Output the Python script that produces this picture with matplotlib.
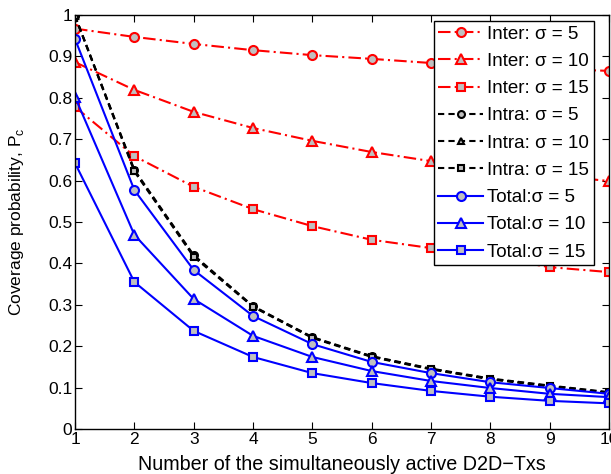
import matplotlib.pyplot as plt
import numpy as np

plt.rcParams['font.family'] = ['Liberation Sans', 'DejaVu Sans']

n_tx = [1, 2, 3, 4, 5, 6, 7, 8, 9, 10]

inter_5 = [0.967, 0.947, 0.930, 0.915, 0.903, 0.894, 0.884, 0.877, 0.870, 0.865]
inter_10 = [0.886, 0.819, 0.766, 0.727, 0.696, 0.669, 0.647, 0.630, 0.613, 0.599]
inter_15 = [0.778, 0.659, 0.585, 0.531, 0.490, 0.457, 0.437, 0.415, 0.391, 0.379]

intra_5 = [0.998, 0.626, 0.420, 0.297, 0.222, 0.176, 0.146, 0.122, 0.105, 0.089]
intra_10 = [0.998, 0.624, 0.418, 0.296, 0.221, 0.175, 0.145, 0.121, 0.104, 0.088]
intra_15 = [0.997, 0.622, 0.416, 0.295, 0.220, 0.174, 0.144, 0.120, 0.103, 0.087]

total_5 = [0.942, 0.577, 0.384, 0.273, 0.205, 0.162, 0.135, 0.113, 0.099, 0.085]
total_10 = [0.802, 0.469, 0.314, 0.225, 0.174, 0.140, 0.116, 0.099, 0.085, 0.077]
total_15 = [0.642, 0.355, 0.237, 0.174, 0.135, 0.111, 0.092, 0.078, 0.068, 0.062]

labels = ['Inter: σ = 5', 'Inter: σ = 10', 'Inter: σ = 15',
          'Intra: σ = 5', 'Intra: σ = 10', 'Intra: σ = 15',
          'Total:σ = 5', 'Total:σ = 10', 'Total:σ = 15']

fig = plt.figure(figsize=(6.11, 4.74), dpi=100)
ax = fig.add_axes([0.1228, 0.0949, 0.8740, 0.8735])

face = '#c0c0c0'
series = [
    (inter_5, 'r', (0, (6, 2, 1, 2)), 'o'),
    (inter_10, 'r', (0, (6, 2, 1, 2)), '^'),
    (inter_15, 'r', (0, (6, 2, 1, 2)), 's'),
    (intra_5, 'k', (0, (3, 2)), 'o'),
    (intra_10, 'k', (0, (3, 2)), '^'),
    (intra_15, 'k', (0, (3, 2)), 's'),
    (total_5, 'b', '-', 'o'),
    (total_10, 'b', '-', '^'),
    (total_15, 'b', '-', 's'),
]
for (vals, c, ls, m), lab in zip(series, labels):
    ms = 6.5 if m != 's' else 5.5
    if c == 'k':
        ms -= 1.5
    ax.plot(n_tx, vals, color=c, linestyle=ls, marker=m, markersize=ms,
            markerfacecolor=face, markeredgecolor=c, markeredgewidth=1.5,
            linewidth=1.5, label=lab)

ax.set_xlim(1, 10)
ax.set_ylim(0, 1)
ax.set_xticks(n_tx)
ax.set_yticks(np.arange(0, 1.01, 0.1))
ax.set_yticklabels(['0', '0.1', '0.2', '0.3', '0.4', '0.5', '0.6', '0.7', '0.8', '0.9', '1'])
ax.tick_params(direction='in', top=True, right=True, labelsize=12.5, length=5, pad=2)
for sp in ax.spines.values():
    sp.set_linewidth(1.0)

ax.set_xlabel('Number of the simultaneously active D2D\u2212Txs', fontsize=14.2, labelpad=6)
ax.set_ylabel('Coverage probability, P$_\\mathregular{c}$', fontsize=12.5)
ax.yaxis.set_label_coords(-0.092, 0.5)

leg = ax.legend(loc='upper right', bbox_to_anchor=(0.971, 0.986), fontsize=13.5,
                handlelength=2.4, handletextpad=0.2, labelspacing=0.54,
                borderpad=0.25, borderaxespad=0, fancybox=False, edgecolor='k',
                framealpha=1)
leg.get_frame().set_linewidth(1.0)

fig.savefig('out.png', dpi=100)
